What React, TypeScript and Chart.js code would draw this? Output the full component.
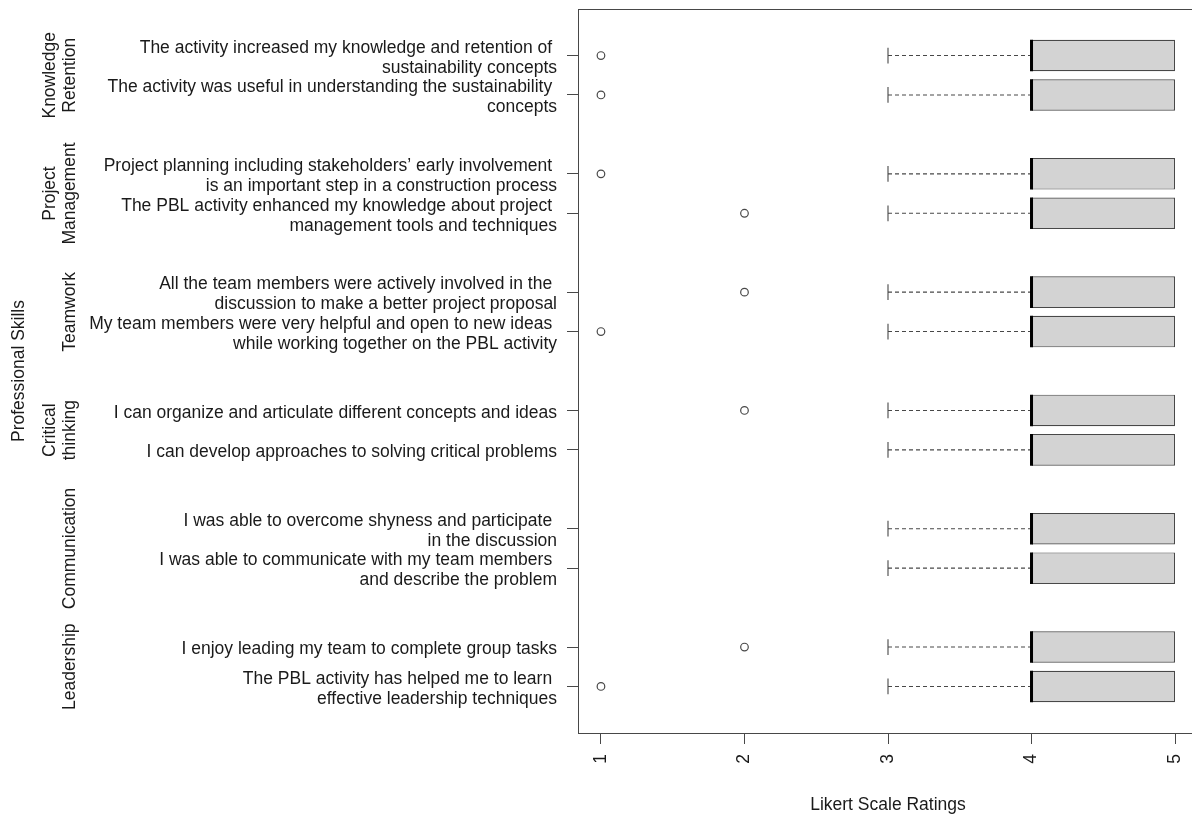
import React, { useEffect, useRef } from 'react';
import { Chart, registerables } from 'chart.js';

Chart.register(...registerables);

// ---------------- data ----------------
const groupNames: string[][] = [
  ['Knowledge', 'Retention'],
  ['Project', 'Management'],
  ['Teamwork'],
  ['Critical', 'thinking'],
  ['Communication'],
  ['Leadership'],
];

const itemLabels: string[][] = [
  ['The activity increased my knowledge and retention of ', 'sustainability concepts'],
  ['The activity was useful in understanding the sustainability ', 'concepts'],
  ['Project planning including stakeholders\u2019 early involvement ', 'is an important step in a construction process'],
  ['The PBL activity enhanced my knowledge about project ', 'management tools and techniques'],
  ['All the team members were actively involved in the ', 'discussion to make a better project proposal'],
  ['My team members were very helpful and open to new ideas ', 'while working together on the PBL activity'],
  ['I can organize and articulate different concepts and ideas'],
  ['I can develop approaches to solving critical problems'],
  ['I was able to overcome shyness and participate ', 'in the discussion'],
  ['I was able to communicate with my team members ', 'and describe the problem'],
  ['I enjoy leading my team to complete group tasks'],
  ['The PBL activity has helped me to learn ', 'effective leadership techniques'],
];

const itemGroup = [0, 0, 1, 1, 2, 2, 3, 3, 4, 4, 5, 5];

const whiskerLow = [3, 3, 3, 3, 3, 3, 3, 3, 3, 3, 3, 3];
const q1 = [4, 4, 4, 4, 4, 4, 4, 4, 4, 4, 4, 4];
const median = [4, 4, 4, 4, 4, 4, 4, 4, 4, 4, 4, 4];
const q3 = [5, 5, 5, 5, 5, 5, 5, 5, 5, 5, 5, 5];
const whiskerHigh = [5, 5, 5, 5, 5, 5, 5, 5, 5, 5, 5, 5];
const outliers: number[][] = [[1], [1], [1], [2], [2], [1], [2], [], [], [], [2], [1]];

const xTicks = [1, 2, 3, 4, 5];

const xTitle = 'Likert Scale Ratings';
const yTitle = 'Professional Skills';

// ---------------- derived layout ----------------
const positions: number[] = (() => {
  const seen: Record<number, number> = {};
  return itemGroup.map((g) => {
    const k = seen[g] ?? 0;
    seen[g] = k + 1;
    return g * 3 + k + 1;
  });
})();
const nSlots = Math.max(...positions);
const yMin = 0.5 - 0.04 * nSlots;
const yMax = nSlots + 0.5 + 0.04 * nSlots;

const allVals = [...whiskerLow, ...whiskerHigh, ...outliers.flat()];
const dMin = Math.min(...allVals);
const dMax = Math.max(...allVals);
const xMin = dMin - 0.04 * (dMax - dMin);
const xMax = dMax + 0.04 * (dMax - dMin);

const labelByPos: Record<number, string[]> = {};
positions.forEach((p, i) => (labelByPos[p] = itemLabels[i]));

const BOX_HALF = 0.4;
const STAPLE_HALF = 0.2;
const GAP = { x: null as any, y: null as any };

const FONT_FAMILY = '"Liberation Sans", Arial, Helvetica, sans-serif';
const FONT_SIZE = 17.5;
const TEXT = '#1a1a1a';
const LINE = '#484848';

const framePlugin = {
  id: 'frame',
  beforeDatasetsDraw(chart: any) {
    const { ctx, chartArea: a } = chart;
    ctx.save();
    ctx.strokeStyle = LINE;
    ctx.lineWidth = 1;
    ctx.strokeRect(a.left + 0.5, a.top + 0.5, a.right - a.left, a.bottom - a.top);
    ctx.restore();
  },
};

const groupLabelPlugin = {
  id: 'groupLabels',
  afterDraw(chart: any) {
    const { ctx, chartArea: a } = chart;
    const yScale = chart.scales.y;
    ctx.save();
    ctx.font = `${FONT_SIZE}px ${FONT_FAMILY}`;
    ctx.fillStyle = TEXT;
    ctx.textAlign = 'center';
    ctx.textBaseline = 'middle';
    groupNames.forEach((lines, g) => {
      const ps = positions.filter((_, i) => itemGroup[i] === g);
      const center = (Math.min(...ps) + Math.max(...ps)) / 2;
      const yc = yScale.getPixelForValue(center);
      const n = lines.length;
      lines.forEach((line, j) => {
        const x = a.left - 508 + (j - (n - 1)) * 20;
        ctx.save();
        ctx.translate(x, yc);
        ctx.rotate(-Math.PI / 2);
        ctx.fillText(line, 0, 0);
        ctx.restore();
      });
    });
    ctx.restore();
  },
};

export default function App() {
  const ref = useRef<HTMLCanvasElement | null>(null);

  useEffect(() => {
    if (!ref.current) return;
    const font = { family: FONT_FAMILY, size: FONT_SIZE, lineHeight: 20 / FONT_SIZE };

    const boxData = positions.map((p, i) => ({ x: [q1[i], q3[i]], y: p }));
    const medianData: any[] = [];
    const whiskerData: any[] = [];
    const stapleData: any[] = [];
    const outlierData: any[] = [];
    positions.forEach((p, i) => {
      medianData.push({ x: median[i], y: p - BOX_HALF }, { x: median[i], y: p + BOX_HALF }, GAP);
      if (whiskerLow[i] < q1[i]) {
        whiskerData.push({ x: whiskerLow[i], y: p }, { x: q1[i], y: p }, GAP);
        stapleData.push({ x: whiskerLow[i], y: p - STAPLE_HALF }, { x: whiskerLow[i], y: p + STAPLE_HALF }, GAP);
      }
      if (whiskerHigh[i] > q3[i]) {
        whiskerData.push({ x: q3[i], y: p }, { x: whiskerHigh[i], y: p }, GAP);
        stapleData.push({ x: whiskerHigh[i], y: p - STAPLE_HALF }, { x: whiskerHigh[i], y: p + STAPLE_HALF }, GAP);
      }
      outliers[i].forEach((v) => outlierData.push({ x: v, y: p }));
    });

    const chart = new Chart(ref.current, {
      type: 'bar',
      data: {
        datasets: [
          {
            type: 'scatter',
            data: outlierData,
            order: 0,
            pointRadius: 3.8,
            pointBorderWidth: 1.2,
            pointBorderColor: LINE,
            pointBackgroundColor: 'rgba(255,255,255,0)',
            showLine: false,
          } as any,
          {
            type: 'line',
            data: medianData,
            order: 1,
            borderColor: '#000',
            borderWidth: 3,
            borderCapStyle: 'butt',
            pointRadius: 0,
            spanGaps: false,
            tension: 0,
          } as any,
          {
            type: 'bar',
            indexAxis: 'y',
            data: boxData,
            order: 2,
            backgroundColor: '#d3d3d3',
            borderColor: LINE,
            borderWidth: 1.2,
            borderSkipped: false,
            barPercentage: 0.8,
            categoryPercentage: 1,
          } as any,
          {
            type: 'line',
            data: whiskerData,
            order: 3,
            borderColor: LINE,
            borderWidth: 1.1,
            borderDash: [4, 3],
            pointRadius: 0,
            spanGaps: false,
            tension: 0,
          } as any,
          {
            type: 'line',
            data: stapleData,
            order: 3,
            borderColor: LINE,
            borderWidth: 1.1,
            pointRadius: 0,
            spanGaps: false,
            tension: 0,
          } as any,
        ],
      },
      options: {
        responsive: false,
        animation: false,
        events: [],
        layout: { padding: { top: 9, right: 8, left: 0, bottom: 0 } },
        plugins: { legend: { display: false }, tooltip: { enabled: false } },
        scales: {
          x: {
            type: 'linear',
            offset: false,
            min: xMin,
            max: xMax,
            afterBuildTicks: (s: any) => {
              s.ticks = xTicks.map((v) => ({ value: v }));
            },
            afterFit: (s: any) => {
              s.height = 83;
              s.paddingLeft = 0;
              s.paddingRight = 0;
            },
            ticks: {
              autoSkip: false,
              minRotation: 90,
              maxRotation: 90,
              padding: 10,
              font,
              color: TEXT,
              callback: (v: any) => String(v),
            },
            grid: { offset: false, drawOnChartArea: false, tickLength: 11, color: LINE },
            border: { display: false },
            title: {
              display: true,
              text: xTitle,
              color: TEXT,
              font: { family: FONT_FAMILY, size: FONT_SIZE, lineHeight: 1.2 },
              padding: { top: 0, bottom: 0 },
            },
          },
          y: {
            type: 'linear',
            offset: false,
            reverse: true,
            min: yMin,
            max: yMax,
            afterBuildTicks: (s: any) => {
              s.ticks = positions.map((v) => ({ value: v }));
            },
            afterFit: (s: any) => {
              s.width = 578;
              s.paddingTop = 0;
              s.paddingBottom = 0;
            },
            ticks: {
              autoSkip: false,
              padding: 10,
              labelOffset: 2.5,
              font,
              color: TEXT,
              callback: (v: any) => labelByPos[v] ?? '',
            },
            grid: { offset: false, drawOnChartArea: false, tickLength: 11, color: LINE },
            border: { display: false },
            title: {
              display: true,
              text: yTitle,
              color: TEXT,
              font: { family: FONT_FAMILY, size: FONT_SIZE, lineHeight: 1.2 },
              padding: { top: 8.5, bottom: 0 },
            },
          },
        },
      } as any,
      plugins: [framePlugin, groupLabelPlugin],
    });
    return () => chart.destroy();
  }, []);

  return (
    <div
      style={{
        position: 'absolute',
        left: 0,
        top: 0,
        width: 1192,
        height: 816,
        overflow: 'hidden',
        background: '#fff',
      }}
    >
      <canvas ref={ref} width={1206} height={816} style={{ display: 'block', width: 1206, height: 816 }} />
    </div>
  );
}
